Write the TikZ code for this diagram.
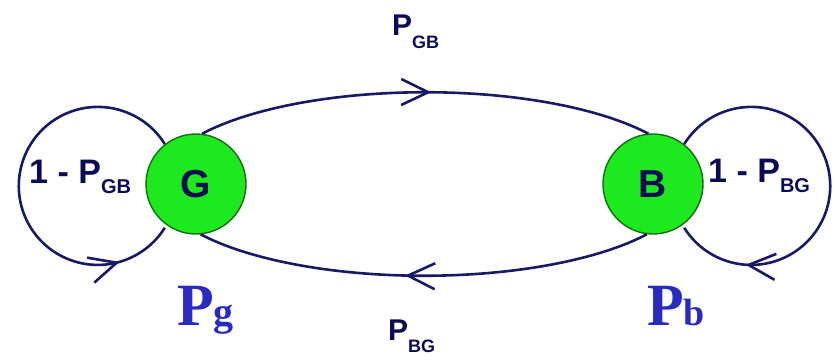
\documentclass[tikz,border=0pt]{standalone}
\usepackage{fontspec}
\setmainfont{Liberation Sans}
\newfontfamily\serifbold{Liberation Serif}
\usetikzlibrary{arrows.meta,decorations.markings}
\definecolor{navy}{RGB}{25,25,100}
\definecolor{labnavy}{RGB}{12,12,85}
\definecolor{stategreen}{RGB}{30,232,30}
\definecolor{stateborder}{RGB}{20,110,20}
\definecolor{pblue}{RGB}{42,42,190}
\newcommand\mysub[2]{\raisebox{-#1}{\fontsize{20}{20}\selectfont #2}}
\begin{document}
\begin{tikzpicture}[x=1pt,y=1pt,
  state/.style={circle, draw=stateborder, line width=1.4pt, fill=stategreen,
    minimum size=100pt, inner sep=0pt, text=labnavy,
    font=\fontsize{39}{39}\selectfont\bfseries},
  edge/.style={draw=navy, line width=2.6pt},
  midarrow/.style={decoration={markings, mark=at position #1 with
      {\arrow{Straight Barb[length=27pt,width=26pt]}}}, postaction={decorate}},
  lbl/.style={inner sep=0pt, text=labnavy, font=\bfseries},
  plbl/.style={inner sep=0pt, text=pblue, font=\serifbold\bfseries}]
\useasboundingbox (0,0) rectangle (838,360);

\node[state] (G) at (196,176) {G};
\node[state] (B) at (653,176) {B};

% transitions between states
\draw[edge, midarrow=0.513] (G.83) arc[start angle=147, end angle=33, x radius=266, y radius=91];
\draw[edge, midarrow=0.541] (B.263) arc[start angle=-33, end angle=-147, x radius=266, y radius=91];

% self loops
\draw[edge, midarrow=0.858] (G.128) arc[start angle=32, end angle=328, radius=79];
\draw[edge, midarrow=0.818] (B.52) arc[start angle=148, end angle=-148, radius=79];

% labels
\node[lbl, anchor=base west] (lgb) at (29,177)
  {\fontsize{34}{34}\selectfont 1 - P\mysub{10pt}{GB}};
\node[lbl, anchor=base west] (lbg) at (708,178)
  {\fontsize{34}{34}\selectfont 1 - P\mysub{10pt}{BG}};
\node[lbl, anchor=base west] (tgb) at (392,325)
  {\fontsize{30}{30}\selectfont P\raisebox{-13pt}{\fontsize{18}{18}\selectfont GB}};
\node[lbl, anchor=base west] (tbg) at (388,20)
  {\fontsize{30}{30}\selectfont P\raisebox{-12pt}{\fontsize{18}{18}\selectfont BG}};

\node[plbl, anchor=base west] (pg) at (177,35)
  {\fontsize{60}{60}\selectfont P\fontsize{40}{40}\selectfont g};
\node[plbl, anchor=base west] (pb) at (647,35)
  {\fontsize{60}{60}\selectfont P\fontsize{38}{38}\selectfont b};
\end{tikzpicture}
\end{document}
